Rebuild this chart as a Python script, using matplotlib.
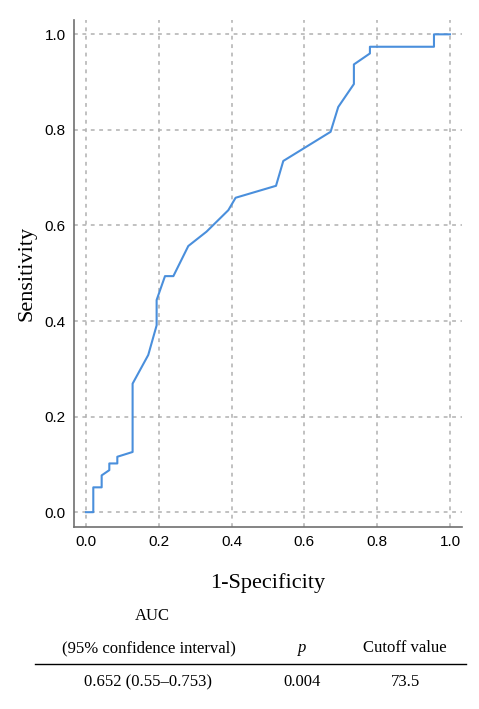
import matplotlib.pyplot as plt

# Curva ROC
fpr = [0.0, 0.02, 0.02, 0.043, 0.043, 0.064, 0.064, 0.086, 0.086, 0.128, 0.128,
       0.171, 0.194, 0.194, 0.217, 0.240, 0.281, 0.331, 0.391, 0.411, 0.522,
       0.542, 0.672, 0.693, 0.736, 0.736, 0.780, 0.780, 0.956, 0.956, 1.0]
tpr = [0.0, 0.0, 0.052, 0.052, 0.077, 0.088, 0.102, 0.102, 0.116, 0.126, 0.269,
       0.329, 0.391, 0.444, 0.494, 0.494, 0.557, 0.587, 0.632, 0.658, 0.683,
       0.735, 0.796, 0.848, 0.896, 0.937, 0.960, 0.974, 0.974, 1.0, 1.0]

ticks = [0.0, 0.2, 0.4, 0.6, 0.8, 1.0]
tick_labels = ["0.0", "0.2", "0.4", "0.6", "0.8", "1.0"]

# Tabela abaixo do gráfico
col_header_top = "AUC"
col_headers = ["(95% confidence interval)", "p", "Cutoff value"]
row_values = ["0.652 (0.55\u20130.753)", "0.004", "73.5"]

fig = plt.figure(figsize=(4.79, 7.09), dpi=100)
ax = fig.add_axes([0.1545, 0.2567, 0.81, 0.7151])

ax.plot(fpr, tpr, color="#4a8fdc", linewidth=1.5)

ax.set_xlim(-0.033, 1.033)
ax.set_ylim(-0.031, 1.03)
ax.set_xticks(ticks)
ax.set_xticklabels(tick_labels, family="Liberation Sans", fontsize=11)
ax.set_yticks(ticks)
ax.set_yticklabels(tick_labels, family="Liberation Sans", fontsize=11)
ax.tick_params(length=0, pad=6)
ax.grid(True, color="#b0b0b0", linestyle=(0, (2.5, 3)), linewidth=1.1)
for s in ["top", "right"]:
    ax.spines[s].set_visible(False)
for s in ["left", "bottom"]:
    ax.spines[s].set_color("#707070")
    ax.spines[s].set_linewidth(1.2)

ax.set_xlabel("1-Specificity", family="Liberation Serif", fontsize=16, labelpad=17)
ax.set_ylabel("Sensitivity", family="Liberation Serif", fontsize=16, labelpad=6)

serif = "Liberation Serif"
W, H = 479, 709
fig.text(152 / W, 1 - 616 / H, col_header_top, family=serif, fontsize=12, ha="center", va="center")
col_x = [149, 302, 405]
for x, t in zip(col_x, col_headers):
    style = "italic" if t == "p" else "normal"
    fig.text(x / W, 1 - 648 / H, t, family=serif, fontsize=12, ha="center", va="center", style=style)
fig.add_artist(plt.Line2D([35 / W, 466 / W], [1 - 664 / H, 1 - 664 / H], color="black", linewidth=1))
for x, t in zip([148, 302, 405], row_values):
    fig.text(x / W, 1 - 682 / H, t, family=serif, fontsize=12, ha="center", va="center")

fig.savefig("out.png", dpi=100)
